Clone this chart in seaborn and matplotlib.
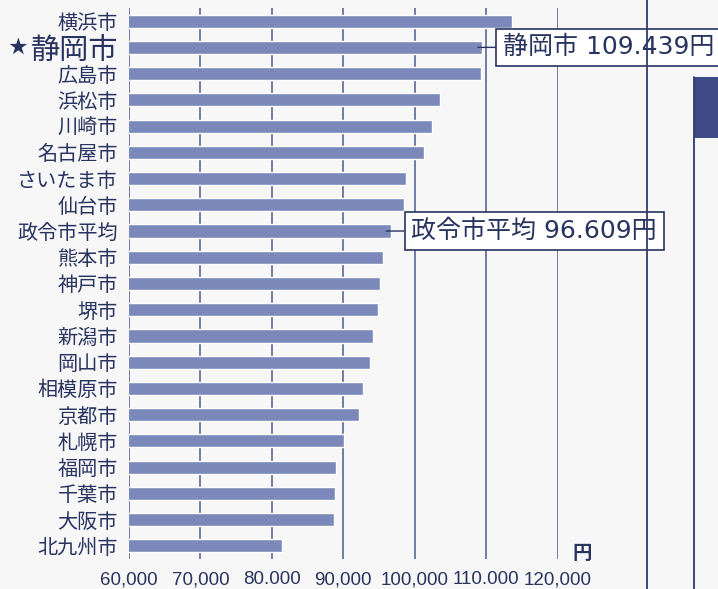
import matplotlib
matplotlib.use("Agg")
import matplotlib.pyplot as plt
from matplotlib.lines import Line2D
from matplotlib.patches import Rectangle
import seaborn as sns
import pandas as pd

cities = ["横浜市", "静岡市", "広島市", "浜松市", "川崎市", "名古屋市", "さいたま市",
          "仙台市", "政令市平均", "熊本市", "神戸市", "堺市", "新潟市", "岡山市",
          "相模原市", "京都市", "札幌市", "福岡市", "千葉市", "大阪市", "北九州市"]
values = [113600, 109439, 109300, 103560, 102340, 101270, 98750,
          98500, 96609, 95480, 95060, 94780, 94130, 93750,
          92820, 92170, 90110, 89000, 88850, 88750, 81430]
xticks = [60000, 70000, 80000, 90000, 100000, 110000, 120000]
xtick_labels = ["60,000", "70,000", "80.000", "90,000", "100,000", "110.000", "120,000"]
highlight_city = "静岡市"
callouts = {"静岡市": "静岡市 109.439円", "政令市平均": "政令市平均 96.609円"}
unit_label = "円"

BAR = "#7b89ba"
GRID = "#5a6797"
TEXT = "#28335f"
BG = "#f7f7f8"

sns.set_theme(style="white")
plt.rcParams["font.family"] = ["Noto Sans CJK JP", "DejaVu Sans"]

df = pd.DataFrame({"city": cities, "value": values})

fig = plt.figure(figsize=(7.18, 5.89), dpi=100, facecolor=BG)
ax = fig.add_axes([129 / 718, 1 - 559 / 589, (557.7 - 129) / 718, 551 / 589])
ax.set_facecolor("none")

sns.barplot(data=df, x="value", y="city", orient="h", color=BAR, saturation=1,
            width=0.5, ax=ax)

ax.set_xlim(60000, 120000)
ax.set_ylim(20.5, -0.5)
ax.set_xticks(xticks)
ax.set_xticklabels(xtick_labels, fontsize=13.5, color=TEXT,
                   family=["Liberation Sans", "DejaVu Sans"])
ax.set_axisbelow(True)
ax.grid(axis="x", color=GRID, linewidth=1.2)
ax.grid(axis="y", visible=False)
for s in ax.spines.values():
    s.set_visible(False)
ax.tick_params(axis="both", length=0)
ax.tick_params(axis="x", pad=9)
ax.tick_params(axis="y", pad=8)
ax.set_xlabel("")
ax.set_ylabel("")

for lab in ax.get_yticklabels():
    lab.set_color(TEXT)
    if lab.get_text() == highlight_city:
        lab.set_fontsize(21)
    else:
        lab.set_fontsize(14.5)

hi = cities.index(highlight_city)
ax.annotate("★", xy=(0, hi), xycoords=("axes fraction", "data"),
            xytext=(-80, 0), textcoords="offset points",
            ha="center", va="center", fontsize=13.5, color=TEXT)

for city, label in callouts.items():
    i = cities.index(city)
    ax.annotate(label, xy=(values[i] - 600, i), xycoords="data",
                xytext=(18, 0), textcoords="offset points",
                ha="left", va="center", fontsize=18, color=TEXT,
                family=["DejaVu Sans", "Noto Sans CJK JP"],
                bbox=dict(boxstyle="square,pad=0.27", fc="white", ec=TEXT, lw=1.2),
                arrowprops=dict(arrowstyle="-", color=TEXT, lw=1.0,
                                shrinkA=0, shrinkB=0),
                annotation_clip=False)

ax.annotate(unit_label, xy=(1, 0), xycoords="axes fraction",
            xytext=(18, 4), textcoords="offset points",
            ha="center", va="center", fontsize=14, color=TEXT, fontweight="bold")

# page decorations of the scanned background
fig.add_artist(Line2D([646.7 / 718, 646.7 / 718], [0, 1], color="#2f3a70", lw=1.3))
fig.add_artist(Line2D([693.5 / 718, 693.5 / 718], [0, 1 - 77 / 589], color="#2f3a70", lw=1.3))
fig.add_artist(Rectangle((693.5 / 718, 1 - 138 / 589), 30 / 718, 61 / 589,
                         transform=fig.transFigure, fc="#3d4a86", ec="none"))

fig.savefig("out.png", dpi=100, facecolor=BG)
